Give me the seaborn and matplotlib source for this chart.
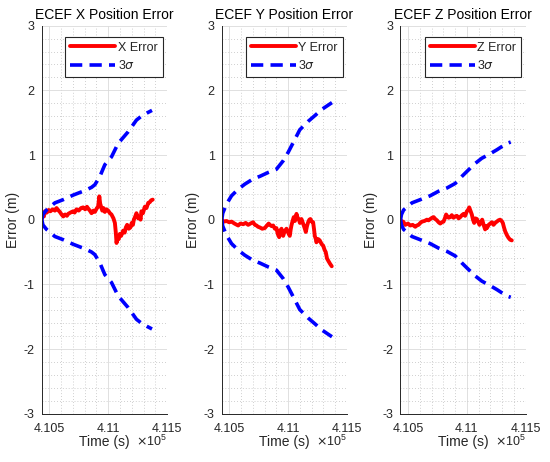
import numpy as np
import pandas as pd
import matplotlib
matplotlib.use('Agg')
import matplotlib.pyplot as plt
import seaborn as sns
from matplotlib.ticker import MultipleLocator, FuncFormatter

# ---- data (time in seconds, error in metres) ----
x_sig_t = [410437, 410446, 410477, 410548, 410619, 410703, 410802, 410859, 410887,
           410930, 410972, 411028, 411085, 411170, 411240, 411282, 411330, 411372]
x_sig = [0.00, 0.08, 0.15, 0.26, 0.31, 0.38, 0.45, 0.50, 0.54,
         0.67, 0.85, 0.97, 1.18, 1.36, 1.54, 1.60, 1.65, 1.69]

x_err_t = [410437, 410445, 410455, 410463, 410480, 410495, 410510, 410530, 410548, 410562,
           410575, 410590, 410605, 410619, 410635, 410650, 410661, 410680, 410703, 410715,
           410732, 410750, 410770, 410788, 410805, 410820, 410831, 410845, 410859, 410875,
           410887, 410905, 410915, 410925, 410932, 410940, 410950, 410960, 410972, 410985,
           411000, 411015, 411028, 411045, 411057, 411065, 411071, 411080, 411090, 411099,
           411110, 411127, 411140, 411150, 411161, 411175, 411189, 411200, 411210, 411218,
           411230, 411240, 411255, 411268, 411275, 411282, 411295, 411311, 411325, 411340,
           411353, 411365, 411378]
x_err = [0.02, 0.08, 0.05, 0.13, 0.11, 0.15, 0.13, 0.16, 0.14, 0.18,
         0.15, 0.12, 0.08, 0.05, 0.08, 0.06, 0.09, 0.11, 0.13, 0.11,
         0.16, 0.14, 0.18, 0.19, 0.16, 0.20, 0.17, 0.14, 0.10, 0.14,
         0.12, 0.18, 0.20, 0.36, 0.25, 0.20, 0.14, 0.18, 0.12, 0.16,
         0.14, 0.10, 0.08, 0.02, -0.05, -0.20, -0.36, -0.28, -0.30, -0.22,
         -0.25, -0.17, -0.20, -0.12, -0.08, -0.14, -0.12, -0.05, -0.08, 0.00,
         0.05, 0.10, 0.02, 0.04, 0.00, 0.13, 0.10, 0.20, 0.18, 0.26,
         0.27, 0.30, 0.31]

y_sig_t = [410437, 410445, 410477, 410520, 410576, 410633, 410703, 410760, 410831,
           410901, 410958, 411000, 411057, 411099, 411170, 411240, 411282, 411372]
y_sig = [0.00, 0.10, 0.24, 0.37, 0.47, 0.55, 0.63, 0.67, 0.73,
         0.78, 0.91, 1.04, 1.24, 1.39, 1.52, 1.63, 1.70, 1.81]

y_err_t = [410437, 410455, 410477, 410500, 410520, 410545, 410576, 410595, 410619, 410640,
           410661, 410680, 410703, 410718, 410732, 410745, 410760, 410780, 410802, 410820,
           410835, 410845, 410860, 410873, 410888, 410901, 410912, 410924, 410932, 410944,
           410950, 410958, 410970, 410986, 411000, 411014, 411022, 411028, 411038, 411048,
           411058, 411071, 411080, 411090, 411100, 411113, 411125, 411133, 411142, 411150,
           411160, 411170, 411180, 411189, 411200, 411212, 411220, 411226, 411235, 411240,
           411255, 411268, 411285, 411297, 411310, 411319, 411330, 411339, 411355, 411370]
y_err = [0.00, -0.03, -0.02, -0.04, -0.03, -0.06, -0.09, -0.06, -0.07, -0.05,
         -0.08, -0.06, -0.04, -0.08, -0.09, -0.11, -0.12, -0.14, -0.13, -0.09,
         -0.06, -0.08, -0.10, -0.09, -0.14, -0.13, -0.22, -0.27, -0.17, -0.14,
         -0.22, -0.25, -0.18, -0.14, -0.20, -0.25, -0.15, -0.09, -0.02, 0.04,
         -0.02, 0.09, 0.03, 0.01, -0.05, 0.01, -0.05, -0.09, -0.14, -0.19,
         -0.10, -0.04, 0.00, 0.01, -0.03, -0.04, -0.15, -0.25, -0.30, -0.35,
         -0.30, -0.32, -0.38, -0.40, -0.47, -0.50, -0.60, -0.63, -0.68, -0.72]

z_sig_t = [410437, 410445, 410463, 410534, 410605, 410689, 410760, 410831, 410901,
           410958, 411014, 411071, 411127, 411198, 411254, 411339, 411372]
z_sig = [0.00, 0.08, 0.15, 0.26, 0.31, 0.37, 0.44, 0.49, 0.56,
         0.67, 0.77, 0.87, 0.95, 1.02, 1.08, 1.18, 1.20]

z_err_t = [410437, 410449, 410460, 410477, 410500, 410520, 410540, 410562, 410575, 410590,
           410605, 410619, 410640, 410661, 410675, 410689, 410705, 410718, 410732, 410746,
           410760, 410774, 410788, 410802, 410815, 410824, 410831, 410845, 410859, 410872,
           410887, 410900, 410915, 410930, 410944, 410958, 410972, 410985, 411000, 411010,
           411020, 411030, 411042, 411052, 411062, 411072, 411085, 411095, 411107, 411118,
           411130, 411142, 411155, 411162, 411170, 411185, 411198, 411212, 411226, 411240,
           411254, 411268, 411282, 411295, 411305, 411315, 411325, 411340, 411353, 411367,
           411381]
z_err = [0.00, -0.05, -0.03, -0.08, -0.06, -0.09, -0.08, -0.11, -0.09, -0.08,
         -0.05, -0.03, -0.02, 0.00, -0.01, 0.01, 0.03, 0.04, 0.01, -0.01,
         -0.04, -0.06, -0.04, -0.03, 0.03, 0.08, 0.06, 0.03, 0.04, 0.07,
         0.03, 0.05, 0.06, 0.02, 0.04, 0.07, 0.09, 0.06, 0.13, 0.15,
         0.19, 0.14, 0.08, 0.00, -0.05, 0.02, 0.01, -0.03, -0.08, -0.04,
         0.00, -0.08, -0.15, -0.10, -0.13, -0.08, -0.06, -0.04, -0.08, -0.05,
         -0.03, -0.01, 0.00, -0.02, -0.05, -0.12, -0.18, -0.24, -0.28, -0.31,
         -0.32]

axis_names = ['X', 'Y', 'Z']
sig_times = [x_sig_t, y_sig_t, z_sig_t]
sig_vals = [x_sig, y_sig, z_sig]
err_times = [x_err_t, y_err_t, z_err_t]
err_vals = [x_err, y_err, z_err]

sns.set_style('white')
plt.rcParams['font.family'] = ['Liberation Sans', 'DejaVu Sans']
plt.rcParams['mathtext.fontset'] = 'dejavusans'

fig = plt.figure(figsize=(5.5, 4.62), dpi=100)
lefts = [0.0758, 0.403, 0.728]
dark = '#262626'

for i, name in enumerate(axis_names):
    ax = fig.add_axes([lefts[i], 0.1045, 0.228, 0.840])
    err_df = pd.DataFrame({'t': err_times[i], 'err': err_vals[i]})
    sig_df = pd.DataFrame({'t': sig_times[i], 'sig': sig_vals[i]})
    sig_df['neg'] = -sig_df['sig']

    sns.lineplot(data=err_df, x='t', y='err', ax=ax, color='#ff0000', lw=2.8,
                 sort=False, label=name + ' Error')
    sns.lineplot(data=sig_df, x='t', y='sig', ax=ax, color='#0000ff', lw=2.6,
                 linestyle=(0, (3.4, 2.0)), sort=False, label=r'3$\sigma$')
    sns.lineplot(data=sig_df, x='t', y='neg', ax=ax, color='#0000ff', lw=2.6,
                 linestyle=(0, (3.4, 2.0)), sort=False)

    ax.set_xlim(410436, 411500)
    ax.set_ylim(-3, 3)
    ax.xaxis.set_major_locator(MultipleLocator(500))
    ax.xaxis.set_minor_locator(MultipleLocator(100))
    ax.yaxis.set_major_locator(MultipleLocator(1))
    ax.yaxis.set_minor_locator(MultipleLocator(0.2))
    ax.xaxis.set_major_formatter(FuncFormatter(lambda v, p: '%g' % (v / 1e5)))
    ax.yaxis.set_major_formatter(FuncFormatter(lambda v, p: '%g' % v))

    ax.grid(True, which='major', color='#dadada', lw=0.6, ls='-')
    ax.grid(True, which='minor', color='#c0c0c0', lw=0.6, ls=(0, (1, 2.5)))
    ax.set_axisbelow(True)
    for s in ['top', 'right']:
        ax.spines[s].set_visible(False)
    for s in ['left', 'bottom']:
        ax.spines[s].set_color(dark)
        ax.spines[s].set_linewidth(0.7)
    ax.tick_params(which='major', direction='in', length=3, width=0.7, colors=dark,
                   labelsize=9, pad=5)
    ax.tick_params(axis='x', which='major', pad=7)
    ax.tick_params(which='minor', length=0)

    ax.set_title('ECEF %s Position Error' % name, fontsize=10, color='black', pad=5)
    ax.set_xlabel('Time (s)', fontsize=10, color=dark, labelpad=0)
    ax.set_ylabel('Error (m)', fontsize=10, color=dark, labelpad=3)
    ax.text(1.0, -0.072, r'$\times\mathregular{10^5}$', transform=ax.transAxes,
            ha='right', va='center', fontsize=9, color=dark)

    leg = ax.legend(loc='upper right', bbox_to_anchor=(0.965, 0.972), fontsize=9,
                    handlelength=3.6, handletextpad=0.2, borderpad=0.4,
                    labelspacing=0.45, fancybox=False, framealpha=1,
                    edgecolor=dark, borderaxespad=0)
    leg.get_frame().set_linewidth(0.8)

fig.savefig('out.png', dpi=100)
